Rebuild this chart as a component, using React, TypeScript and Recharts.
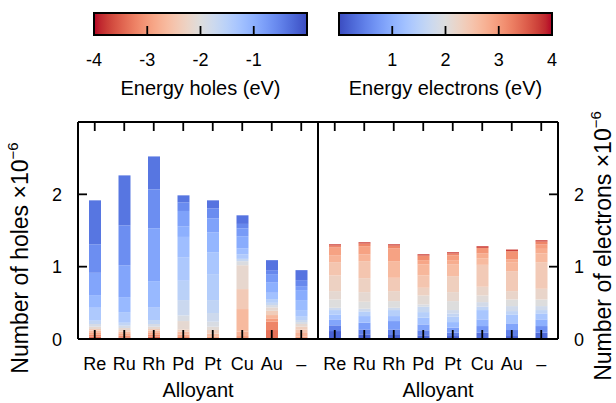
import React from "react"
import { BarChart, Bar, XAxis, YAxis, Cell } from "recharts"

const alloyants = ["Re", "Ru", "Rh", "Pd", "Pt", "Cu", "Au", "–"]

// segments bottom -> top: [carriers (x1e-6), energy (eV)]
const holesRe = [[0.013, -3.62], [0.02, -3.38], [0.03, -3.12], [0.03, -2.88], [0.025, -2.62], [0.02, -2.38], [0.032, -2.12], [0.037, -1.88], [0.046, -1.62], [0.179, -1.38], [0.175, -1.12], [0.308, -0.88], [0.395, -0.62], [0.607, -0.38]]
const holesRu = [[0.009, -3.62], [0.015, -3.38], [0.025, -3.12], [0.03, -2.88], [0.025, -2.62], [0.02, -2.38], [0.028, -2.12], [0.032, -1.88], [0.041, -1.62], [0.147, -1.38], [0.207, -1.12], [0.441, -0.88], [0.552, -0.62], [0.69, -0.38]]
const holesRh = [[0.013, -3.62], [0.02, -3.38], [0.03, -3.12], [0.03, -2.88], [0.025, -2.62], [0.02, -2.38], [0.032, -2.12], [0.037, -1.88], [0.055, -1.62], [0.179, -1.38], [0.359, -1.12], [0.731, -0.88], [0.538, -0.62], [0.455, -0.38]]
const holesPd = [[0.028, -3.12], [0.035, -2.88], [0.04, -2.62], [0.03, -2.36], [0.115, -2.12], [0.078, -1.92], [0.212, -1.72], [0.267, -1.52], [0.326, -1.36], [0.28, -1.2], [0.148, -1.0], [0.211, -0.84], [0.12, -0.6], [0.096, -0.38]]
const holesPt = [[0.029, -2.88], [0.045, -2.6], [0.05, -2.32], [0.046, -2.08], [0.069, -1.92], [0.12, -1.76], [0.179, -1.6], [0.359, -1.44], [0.303, -1.32], [0.276, -1.08], [0.193, -0.84], [0.138, -0.6], [0.11, -0.36]]
const holesCu = [[0.041, -3.0], [0.06, -2.76], [0.313, -2.64], [0.276, -2.4], [0.33, -2.16], [0.056, -1.96], [0.032, -1.68], [0.064, -1.4], [0.083, -1.2], [0.166, -0.96], [0.11, -0.76], [0.06, -0.56], [0.119, -0.36]]
const holesAu = [[0.124, -3.36], [0.115, -3.2], [0.046, -2.96], [0.046, -2.68], [0.059, -2.36], [0.047, -2.12], [0.032, -1.92], [0.031, -1.68], [0.052, -1.48], [0.087, -1.24], [0.147, -1.0], [0.111, -0.76], [0.055, -0.56], [0.138, -0.36]]
const holesNone = [[0.033, -2.92], [0.05, -2.72], [0.05, -2.48], [0.037, -2.32], [0.037, -2.12], [0.027, -1.92], [0.028, -1.72], [0.046, -1.52], [0.092, -1.32], [0.138, -1.16], [0.138, -0.96], [0.055, -0.76], [0.083, -0.56], [0.138, -0.36]]

const electronsRe = [[0.11, 0.2], [0.079, 0.48], [0.082, 0.88], [0.069, 1.24], [0.06, 1.48], [0.032, 1.76], [0.115, 2.0], [0.115, 2.12], [0.216, 2.28], [0.184, 2.48], [0.097, 2.72], [0.105, 2.92], [0.028, 3.2], [0.018, 3.72]]
const electronsRu = [[0.064, 0.2], [0.069, 0.48], [0.092, 0.8], [0.092, 1.2], [0.065, 1.48], [0.036, 1.76], [0.097, 2.0], [0.133, 2.12], [0.193, 2.28], [0.235, 2.48], [0.092, 2.72], [0.115, 2.92], [0.037, 3.2], [0.018, 3.72]]
const electronsRh = [[0.055, 0.2], [0.078, 0.48], [0.115, 0.8], [0.069, 1.2], [0.083, 1.48], [0.032, 1.76], [0.092, 2.0], [0.138, 2.2], [0.184, 2.4], [0.23, 2.64], [0.179, 2.92], [0.037, 3.2], [0.018, 3.72]]
const electronsPd = [[0.051, 0.24], [0.069, 0.52], [0.082, 0.88], [0.092, 1.24], [0.078, 1.48], [0.074, 1.68], [0.032, 1.92], [0.124, 2.08], [0.106, 2.28], [0.17, 2.48], [0.152, 2.68], [0.06, 2.88], [0.064, 3.12], [0.018, 3.72]]
const electronsPt = [[0.041, 0.2], [0.046, 0.48], [0.069, 0.8], [0.078, 1.16], [0.074, 1.44], [0.046, 1.64], [0.046, 1.8], [0.124, 2.0], [0.124, 2.16], [0.221, 2.32], [0.165, 2.6], [0.056, 2.8], [0.064, 2.96], [0.028, 3.2], [0.018, 3.72]]
const electronsCu = [[0.087, 0.32], [0.092, 0.72], [0.092, 1.04], [0.129, 1.32], [0.046, 1.6], [0.064, 1.84], [0.092, 2.04], [0.12, 2.2], [0.303, 2.4], [0.092, 2.64], [0.065, 2.8], [0.078, 3.04], [0.023, 3.72]]
const electronsAu = [[0.041, 0.2], [0.083, 0.48], [0.092, 0.88], [0.124, 1.32], [0.046, 1.6], [0.069, 1.8], [0.092, 2.0], [0.115, 2.2], [0.276, 2.4], [0.124, 2.68], [0.037, 2.8], [0.115, 3.08], [0.023, 3.72]]
const electronsNone = [[0.087, 0.28], [0.092, 0.64], [0.092, 1.0], [0.083, 1.32], [0.046, 1.6], [0.055, 1.8], [0.092, 2.0], [0.147, 2.2], [0.368, 2.4], [0.12, 2.64], [0.064, 2.8], [0.06, 2.96], [0.041, 3.2], [0.019, 3.72]]

const holesBars = [holesRe, holesRu, holesRh, holesPd, holesPt, holesCu, holesAu, holesNone]
const electronsBars = [electronsRe, electronsRu, electronsRh, electronsPd, electronsPt, electronsCu, electronsAu, electronsNone]

const yTicks = [0, 1, 2]
const holesCbarTicks = [-4, -3, -2, -1]
const electronsCbarTicks = [1, 2, 3, 4]

// coolwarm colormap, 33 samples
const COOLWARM = [
  [59, 76, 192], [68, 90, 204], [77, 104, 215], [87, 117, 225], [98, 130, 234], [108, 142, 241], [119, 154, 247], [130, 165, 251],
  [141, 176, 254], [152, 185, 255], [163, 194, 255], [174, 201, 253], [184, 208, 249], [194, 213, 244], [204, 217, 238], [213, 219, 230],
  [221, 221, 221], [229, 216, 209], [236, 211, 197], [241, 204, 185], [245, 196, 173], [247, 187, 160], [247, 177, 148], [247, 166, 135],
  [244, 154, 123], [241, 141, 111], [236, 127, 99], [229, 112, 88], [222, 96, 77], [213, 80, 66], [203, 62, 56], [192, 40, 47], [180, 4, 38],
]

function coolwarm(t: number) {
  const v = Math.max(0, Math.min(1, t)) * 32
  const i = Math.min(31, Math.floor(v))
  const f = v - i
  const a = COOLWARM[i], b = COOLWARM[i + 1]
  const c = a.map((x, k) => Math.round(x + (b[k] - x) * f))
  return `rgb(${c[0]},${c[1]},${c[2]})`
}

const holesColor = (e: number) => coolwarm(-e / 4)
const electronsColor = (e: number) => coolwarm(e / 4)

const SEGMENTS = Array.from({ length: 15 }, (_, k) => k)

function buildRows(bars: number[][][]) {
  return alloyants.map((name, i) => {
    const row: any = { name }
    SEGMENTS.forEach((k) => {
      row[`s${k}`] = bars[i][k] ? bars[i][k][0] : 0
    })
    return row
  })
}

const frame = { stroke: "#000", strokeWidth: 2 }
const TICK = 9

const BottomTick = (p: any) => (
  <g>
    <line x1={p.x} x2={p.x} y1={p.y} y2={p.y - TICK} stroke="#000" strokeWidth={1.8} />
    <text x={p.x} y={p.y + 31} textAnchor="middle" fontSize={18} fill="#000">{p.payload.value}</text>
  </g>
)
const TopTick = (p: any) => (
  <line x1={p.x} x2={p.x} y1={p.y} y2={p.y + TICK} stroke="#000" strokeWidth={1.8} />
)
const LeftTick = (p: any) => (
  <g>
    <line x1={p.x + 16} x2={p.x + 16 + TICK} y1={p.y} y2={p.y} stroke="#000" strokeWidth={1.8} />
    <text x={p.x} y={p.y + 6.5} textAnchor="end" fontSize={18} fill="#000">{p.payload.value}</text>
  </g>
)
const RightTick = (p: any) => (
  <g>
    <line x1={p.x - p.margin} x2={p.x - p.margin - TICK} y1={p.y} y2={p.y} stroke="#000" strokeWidth={1.8} />
    {p.labelled && <text x={p.x} y={p.y + 6.5} textAnchor="start" fontSize={18} fill="#000">{p.payload.value}</text>}
  </g>
)

function Panel({ bars, colorOf, left }: { bars: number[][][]; colorOf: (e: number) => string; left: boolean }) {
  const rows = buildRows(bars)
  return (
    <BarChart
      width={left ? 320 : 300}
      height={403}
      data={rows}
      margin={left ? { top: 121, right: 1, bottom: 14, left: 18 } : { top: 121, right: 0, bottom: 14, left: 2 }}
      barCategoryGap={0}
    >
      {SEGMENTS.map((k) => (
        <Bar key={k} dataKey={`s${k}`} stackId="a" xAxisId="b" yAxisId="v" barSize={12} isAnimationActive={false}>
          {rows.map((_, i) => (
            <Cell key={i} fill={bars[i][k] ? colorOf(bars[i][k][1]) : "none"} />
          ))}
        </Bar>
      ))}
      <XAxis xAxisId="b" dataKey="name" orientation="bottom" height={50} padding={{ left: 2, right: 2 }}
        axisLine={frame} tickLine={false} tickSize={0} tickMargin={0} interval={0} tick={<BottomTick />} />
      <XAxis xAxisId="t" dataKey="name" orientation="top" height={1} padding={{ left: 2, right: 2 }}
        axisLine={frame} tickLine={false} tickSize={0} tickMargin={0} interval={0} tick={<TopTick />} />
      {left ? (
        <YAxis yAxisId="v" orientation="left" width={60} domain={[0, 3]} ticks={yTicks} interval={0}
          axisLine={frame} tickLine={false} tickSize={0} tickMargin={16} tick={<LeftTick />} />
      ) : (
        <YAxis yAxisId="v" orientation="right" width={58} domain={[0, 3]} ticks={yTicks} interval={0}
          axisLine={frame} tickLine={false} tickSize={0} tickMargin={16} tick={<RightTick margin={16} labelled />} />
      )}
      {left && (
        <YAxis yAxisId="r" orientation="right" width={1} domain={[0, 3]} ticks={yTicks} interval={0}
          axisLine={frame} tickLine={false} tickSize={0} tickMargin={0} tick={<RightTick margin={0} />} />
      )}
    </BarChart>
  )
}

function Colorbar({ x, from, to, ticks, labels, title, id, reversed }: {
  x: number; from: number; to: number; ticks: number[]; labels: number[]; title: string; id: string; reversed: boolean
}) {
  const w = 213
  const y = 13
  const h = 22
  const pos = (v: number) => x + ((v - from) / (to - from)) * w
  return (
    <g>
      <defs>
        <linearGradient id={id} x1="0" y1="0" x2="1" y2="0">
          {COOLWARM.map((_, i) => (
            <stop key={i} offset={`${(i / 32) * 100}%`} stopColor={coolwarm(reversed ? 1 - i / 32 : i / 32)} />
          ))}
        </linearGradient>
      </defs>
      <rect x={x} y={y} width={w} height={h} fill={`url(#${id})`} stroke="#000" strokeWidth={2} />
      {ticks.map((v) => (
        <line key={v} x1={pos(v)} x2={pos(v)} y1={y + h} y2={y + h - 9} stroke="#000" strokeWidth={1.8} />
      ))}
      {labels.map((v) => (
        <text key={v} x={pos(v)} y={66} textAnchor="middle" fontSize={18}>{v}</text>
      ))}
      <text x={x + w / 2} y={95} textAnchor="middle" fontSize={20}>{title}</text>
    </g>
  )
}

export default function App() {
  return (
    <div style={{ position: "absolute", left: 0, top: 0, width: 616, height: 403, background: "#fff", fontFamily: "'Liberation Sans', Arial, sans-serif", overflow: "hidden" }}>
      <div style={{ position: "absolute", left: 0, top: 0 }}>
        <Panel bars={holesBars} colorOf={holesColor} left />
      </div>
      <div style={{ position: "absolute", left: 316, top: 0 }}>
        <Panel bars={electronsBars} colorOf={electronsColor} left={false} />
      </div>
      <svg width={616} height={403} style={{ position: "absolute", left: 0, top: 0, pointerEvents: "none" }}>
        <Colorbar x={94} from={-4} to={0} ticks={[-3, -2, -1]} labels={holesCbarTicks} title="Energy holes (eV)" id="cbH" reversed />
        <Colorbar x={339} from={0} to={4} ticks={[1, 2, 3]} labels={electronsCbarTicks} title="Energy electrons (eV)" id="cbE" reversed={false} />
        <text x={198} y={397} textAnchor="middle" fontSize={20}>Alloyant</text>
        <text x={438} y={397} textAnchor="middle" fontSize={20}>Alloyant</text>
        <text transform="translate(28,258) rotate(-90)" textAnchor="middle" fontSize={23}>
          Number of holes ×10<tspan dy={-10} fontSize={15}>−6</tspan>
        </text>
        <text transform="translate(611,246) rotate(-90)" textAnchor="middle" fontSize={23}>
          Number of electrons ×10<tspan dy={-10} fontSize={15}>−6</tspan>
        </text>
      </svg>
    </div>
  )
}
